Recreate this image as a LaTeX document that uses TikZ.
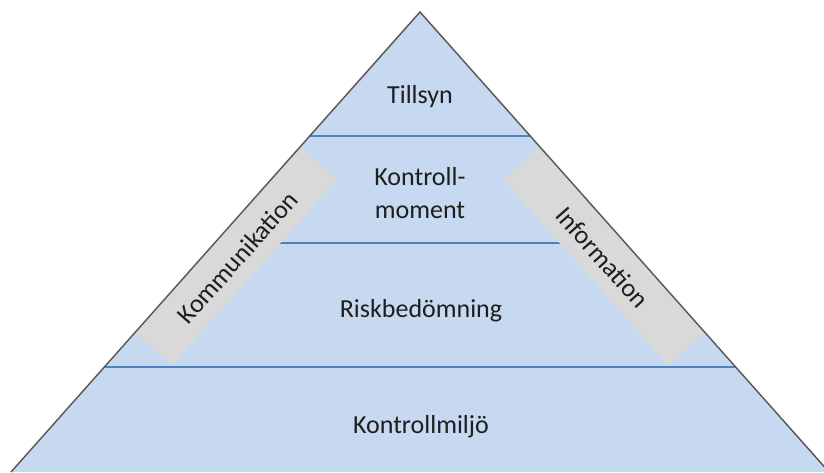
\documentclass[tikz,border=0pt]{standalone}
\usepackage{fontspec}
\setmainfont{Carlito}
\usepackage{tikz}

\begin{document}
\begin{tikzpicture}[x=0.75pt,y=0.75pt,yscale=-1,xscale=1,
    level/.style={draw={rgb, 255:red, 79; green, 129; blue, 189 }, line width=1.1pt},
    band/.style={fill={rgb, 255:red, 217; green, 217; blue, 217 }, draw=none, inner sep=0pt,
        minimum width=186pt, minimum height=37pt},
    label/.style={text={rgb, 255:red, 30; green, 30; blue, 30 }, inner sep=0.75pt,
        font=\fontsize{19.5}{24.75}\selectfont, align=center}]
        \useasboundingbox (0,0) rectangle (824,472);

        %Shape: Triangle [id:pyramid]
        \fill [fill={rgb, 255:red, 198; green, 217; blue, 240 }] (420,12) -- (11,472) -- (829,472) -- cycle ;

        %Straight Lines [id:levels]
        \draw [level] (309.8,136) -- (530.2,136) ;
        \draw [level] (214.6,243) -- (625.4,243) ;
        \draw [level] (104.4,367) -- (735.6,367) ;

        %Shape: Rectangle [id:sidebands]
        \node [band, rotate=48.4] (komm) at (235.9,256) {};
        \node [band, rotate=-48.4] (info) at (604.1,256) {};

        %Straight Lines [id:outline]
        \draw [color={rgb, 255:red, 89; green, 89; blue, 89 }, line width=1.1pt] (11,472) -- (420,12) -- (829,472) ;

        % Text Node
        \node [label, anchor=base] (tillsyn) at (420,103) {Tillsyn};
        % Text Node
        \node [label, anchor=base] (moment) at (420,218) {Kontroll-\\moment};
        % Text Node
        \node [label, anchor=base] (risk) at (421,317) {Riskbedömning};
        % Text Node
        \node [label, anchor=base] (miljo) at (421,433) {Kontrollmiljö};
        % Text Node
        \node [label, rotate=48.4] at ([shift={(1.5,1.3)}]komm.center) {Kommunikation};
        % Text Node
        \node [label, rotate=-48.4] at ([shift={(-1.5,1.3)}]info.center) {Information};

\end{tikzpicture}
\end{document}
